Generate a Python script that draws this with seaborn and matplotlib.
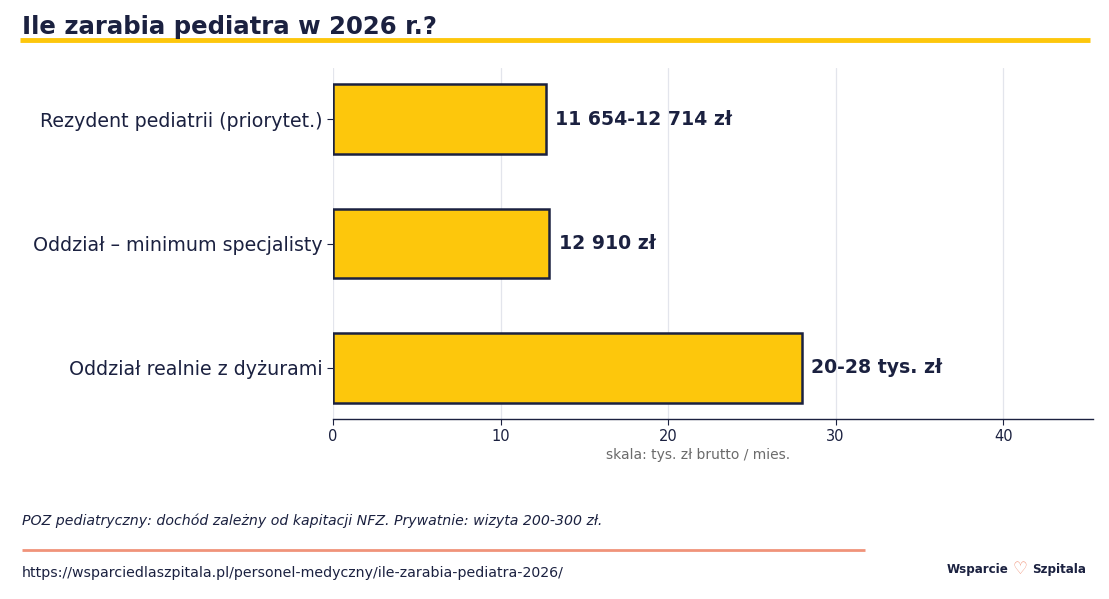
import matplotlib
matplotlib.use("Agg")
import matplotlib.pyplot as plt
import seaborn as sns
import pandas as pd

# data
categories = ["Rezydent pediatrii (priorytet.)", "Oddział – minimum specjalisty", "Oddział realnie z dyżurami"]
values = [12.714, 12.91, 28.0]
value_labels = ["11 654-12 714 zł", "12 910 zł", "20-28 tys. zł"]
x_ticks = [0, 10, 20, 30, 40]

NAVY = "#1b2140"
YELLOW = "#fdc70c"
SALMON = "#f0937a"

sns.set_style("white")
plt.rcParams["font.family"] = ["DejaVu Sans"]

df = pd.DataFrame({"kategoria": categories, "wartosc": values})

fig = plt.figure(figsize=(11.09, 5.99), dpi=100)
ax = fig.add_axes([333 / 1109, 1 - 419 / 599, (1093 - 333) / 1109, (419 - 68) / 599])

sns.barplot(data=df, x="wartosc", y="kategoria", color=YELLOW, saturation=1,
            edgecolor=NAVY, linewidth=1.8, width=0.56, ax=ax, zorder=3)

ax.set_xlim(0, max(values) * 1.62)
ax.set_ylim(2.41, -0.41)
ax.set_xticks(x_ticks)
ax.grid(axis="x", color="#e3e5ec", linewidth=0.9, zorder=0)
ax.set_axisbelow(True)
for s in ["top", "right", "left"]:
    ax.spines[s].set_visible(False)
ax.spines["bottom"].set_color(NAVY)
ax.spines["bottom"].set_linewidth(1.0)
ax.tick_params(axis="x", colors=NAVY, labelsize=10.5, length=4, bottom=True)
ax.tick_params(axis="y", colors=NAVY, labelsize=13.7, length=4, left=True)
ax.set_ylabel("")
ax.set_xlabel("")

for i, (v, lab) in enumerate(zip(values, value_labels)):
    ax.text(v + 0.55, i, lab, va="center", ha="left", fontsize=13.6,
            fontweight="bold", color=NAVY)

fig.text(698 / 1109, 1 - 455 / 599, "skala: tys. zł brutto / mies.", ha="center",
         va="center", fontsize=10, color="#6b6b6b")

# title + yellow rule
fig.text(22 / 1109, 1 - 27 / 599, "Ile zarabia pediatra w 2026 r.?", ha="left",
         va="center", fontsize=17.6, fontweight="bold", color=NAVY)
fig.add_artist(plt.Line2D([20 / 1109, 1090 / 1109], [1 - 40 / 599, 1 - 40 / 599],
                          color=YELLOW, linewidth=3.5, solid_capstyle="butt",
                          transform=fig.transFigure))

# footer
fig.text(22 / 1109, 1 - 521 / 599,
         "POZ pediatryczny: dochód zależny od kapitacji NFZ. Prywatnie: wizyta 200-300 zł.",
         ha="left", va="center", fontsize=10.2, style="italic", color=NAVY)
fig.add_artist(plt.Line2D([22 / 1109, 865 / 1109], [1 - 550 / 599, 1 - 550 / 599],
                          color=SALMON, linewidth=2, solid_capstyle="butt",
                          transform=fig.transFigure))
fig.text(22 / 1109, 1 - 573 / 599,
         "https://wsparciedlaszpitala.pl/personel-medyczny/ile-zarabia-pediatra-2026/",
         ha="left", va="center", fontsize=10.2, color=NAVY)
fig.text(1009 / 1109, 1 - 569 / 599, "Wsparcie", ha="right", va="center",
         fontsize=8.6, fontweight="semibold", color=NAVY)
fig.text(1020 / 1109, 1 - 569 / 599, "♡", ha="center", va="center",
         fontsize=12, color=SALMON)
fig.text(1032 / 1109, 1 - 569 / 599, "Szpitala", ha="left", va="center",
         fontsize=8.6, fontweight="semibold", color=NAVY)

fig.savefig("out.png", dpi=100)
